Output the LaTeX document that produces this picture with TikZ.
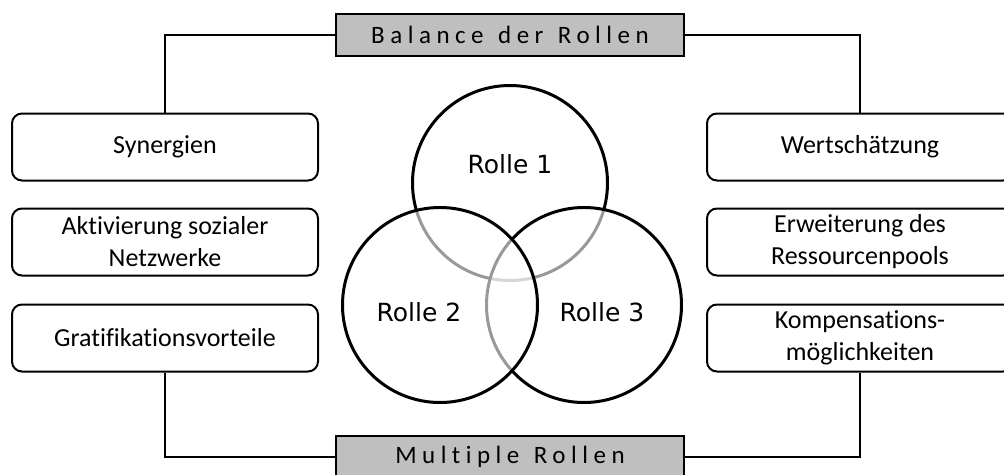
\documentclass[tikz,border=0pt]{standalone}
\usepackage{fontspec}
\setmainfont{Carlito}[Ligatures=NoCommon]
\newfontfamily\rollenfont{DejaVu Sans}
\newfontfamily\balkenfont{Carlito}[Ligatures=NoCommon,LetterSpace=22,WordSpace=1.3]

\begin{document}
\begin{tikzpicture}[x=1pt,y=-1pt,
	kasten/.style={draw,line width=2pt,rounded corners=10pt,minimum width=306pt,minimum height=67pt,align=center,font=\fontsize{26}{32}\selectfont},
	balken/.style={draw,line width=2.5pt,fill=black!25,minimum width=348pt,minimum height=42pt,font=\balkenfont\fontsize{25}{30}\selectfont},
	kreis/.style={circle,draw,line width=3pt,inner sep=0pt,minimum size=195pt,fill=white,fill opacity=0.6,draw opacity=1},
	rolle/.style={font=\rollenfont\fontsize{25}{30}\selectfont},
	linie/.style={line width=2.5pt}]
				\useasboundingbox (0,0) rectangle (1004,474);

				\node[kreis] (kreis1) at (510,183) {};
				\node[kreis] (kreis3) at (584,305) {};
				\node[kreis] (kreis2) at (440,305) {};
				\node[rolle] (rolle1) at (510,164) {Rolle 1};
				\node[rolle] (rolle2) at (419,312) {Rolle 2};
				\node[rolle] (rolle3) at (602,312) {Rolle 3};

				\node[balken] (balance) at (510,35) {Balance der Rollen};
				\node[balken] (multiple) at (510,457) {Multiple Rollen};

				\node[kasten] (synergien) at (165,147) {Synergien};
				\node[kasten] (aktivierung) at (165,242) {Aktivierung sozialer\\Netzwerke};
				\node[kasten] (gratifikation) at (165,338) {Gratifikationsvorteile};
				\node[kasten] (wertschaetzung) at (860,147) {Wertschätzung};
				\node[kasten] (erweiterung) at (860,242) {Erweiterung des\\Ressourcenpools};
				\node[kasten] (kompensation) at (860,338) {Kompensations-\\möglichkeiten};

				\draw[linie] (balance.west) -| (synergien.north);
				\draw[linie] (balance.east) -| (wertschaetzung.north);
				\draw[linie] (gratifikation.south) |- (multiple.west);
				\draw[linie] (kompensation.south) |- (multiple.east);
			\end{tikzpicture}
\end{document}
